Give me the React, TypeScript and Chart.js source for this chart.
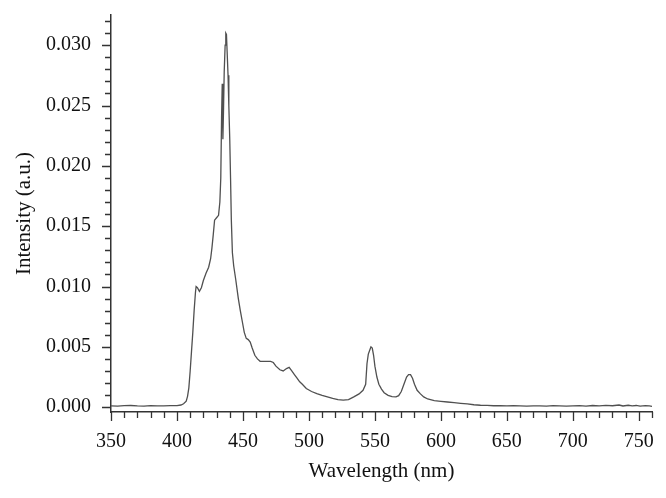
import React, { useEffect, useRef } from "react";
import { Chart, registerables } from "chart.js";

Chart.register(...registerables);

const wavelengths = [
  350, 355, 360, 365, 370, 375, 380, 385, 390, 395, 400, 403, 405, 407, 408, 409, 410, 411, 412, 413,
  414, 414.5, 415.5, 417, 418.5, 420, 422, 424, 425.5, 426.5, 427.5, 428.5, 430, 431.5, 432.5, 433.2,
  433.8, 434.3, 434.8, 435.3, 435.8, 436.5, 437, 437.5, 438, 438.7, 439.3, 440, 440.6, 441.2, 442, 443,
  444.5, 446.5, 448, 449.5, 451, 452.5, 454, 455.5, 457, 459, 461, 463, 466, 469, 471, 473, 475, 478,
  480.5, 483, 485, 487, 489, 491, 493, 495, 498, 502, 506, 510, 514, 518, 522, 526, 530, 534, 538, 541,
  543, 544, 545, 546, 547, 548, 549, 550, 551.5, 553, 555, 557, 560, 563, 566, 568, 570, 572, 574, 575.5,
  577, 578.5, 580, 582, 584.5, 587, 590, 595, 600, 605, 610, 615, 620, 625, 630, 635, 640, 645, 650, 655,
  660, 665, 670, 675, 680, 685, 690, 695, 700, 705, 710, 715, 720, 725, 730, 735, 738, 742, 745, 748,
  751, 755, 758, 760,
];

const intensities = [
  0.0001, 0.00008, 0.00012, 0.00014, 0.0001, 0.00009, 0.00012, 0.00011, 0.0001, 0.00012, 0.00013, 0.00018,
  0.00028, 0.0005, 0.0009, 0.0016, 0.003, 0.0046, 0.0062, 0.008,
  0.0095, 0.01, 0.0099, 0.0096, 0.0099, 0.0105, 0.0111, 0.0116, 0.0123, 0.0132, 0.0143, 0.0155, 0.0157,
  0.0159, 0.017, 0.019,
  0.024, 0.0268, 0.0222, 0.0248, 0.0278, 0.03, 0.031, 0.0309, 0.0295, 0.0275, 0.025, 0.0222, 0.019, 0.0155,
  0.0128, 0.0117,
  0.0106, 0.009, 0.008, 0.0071, 0.0062, 0.0057, 0.0056, 0.0054, 0.0049, 0.0043, 0.004, 0.0038, 0.0038,
  0.0038, 0.0038, 0.0037, 0.0034, 0.0031,
  0.003, 0.0032, 0.0033, 0.003, 0.0027, 0.0024, 0.0021, 0.0019, 0.00155, 0.0013, 0.00113, 0.00098, 0.00085,
  0.00072, 0.00062, 0.00058, 0.00062, 0.00085, 0.0011, 0.0014,
  0.0019, 0.0036, 0.0044, 0.0047, 0.005, 0.0049, 0.0043, 0.0034, 0.0025, 0.0019, 0.0015, 0.0012, 0.00098,
  0.00088, 0.00085, 0.00095, 0.0013, 0.0019, 0.0025, 0.0027,
  0.0027, 0.0024, 0.0019, 0.0014, 0.0011, 0.00085, 0.00068, 0.00054, 0.00048, 0.00043, 0.00038, 0.00032,
  0.00027, 0.0002, 0.00016, 0.00015, 0.00012, 0.00012, 0.0001, 0.00012,
  0.0001, 0.00009, 0.00011, 0.0001, 0.00009, 0.00012, 0.0001, 0.00009, 0.00011, 0.00013, 0.00009, 0.00014,
  0.0001, 0.00015, 0.00012, 0.00018, 0.0001, 0.00016, 0.00011, 0.00014,
  0.00008, 0.00012, 0.0001, 0.00006,
];

const xTickValues = [350, 400, 450, 500, 550, 600, 650, 700, 750];
const yTickValues = [0, 0.005, 0.01, 0.015, 0.02, 0.025, 0.03];
const xTitle = "Wavelength (nm)";
const yTitle = "Intensity (a.u.)";

const FONT = "'Liberation Serif', 'Times New Roman', serif";
const AXIS_COLOR = "#333333";

const minorTicksPlugin = {
  id: "minorTicks",
  afterDraw(chart: any) {
    const { ctx, chartArea } = chart;
    const xs = chart.scales.x;
    const ys = chart.scales.y;
    ctx.save();
    ctx.strokeStyle = AXIS_COLOR;
    ctx.lineWidth = 1.3;
    ctx.beginPath();
    for (let v = 350; v <= 760; v += 10) {
      const px = Math.round(xs.getPixelForValue(v)) + 0.5;
      const len = v % 50 === 0 ? 9 : 6;
      ctx.moveTo(px, chartArea.bottom);
      ctx.lineTo(px, chartArea.bottom + len);
    }
    for (let i = 0; i <= 32; i++) {
      const py = Math.round(ys.getPixelForValue(i / 1000)) + 0.5;
      const len = i % 5 === 0 ? 9 : 6;
      ctx.moveTo(chartArea.left - len, py);
      ctx.lineTo(chartArea.left, py);
    }
    ctx.stroke();
    ctx.restore();
  },
};

export default function App() {
  const canvasRef = useRef<HTMLCanvasElement | null>(null);

  useEffect(() => {
    const canvas = canvasRef.current;
    if (!canvas) return;
    const points = wavelengths.map((w, i) => ({ x: w, y: intensities[i] }));
    const chart = new Chart(canvas, {
      type: "line",
      data: {
        datasets: [
          {
            data: points,
            borderColor: "#505050",
            borderWidth: 1.3,
            pointRadius: 0,
            tension: 0,
            fill: false,
          },
        ],
      },
      options: {
        animation: false,
        responsive: false,
        maintainAspectRatio: false,
        layout: { padding: { top: 15, right: 14, left: 0, bottom: 0 } },
        plugins: {
          legend: { display: false },
          tooltip: { enabled: false },
        },
        scales: {
          x: {
            type: "linear",
            min: 350,
            max: 760,
            afterBuildTicks: (s: any) => {
              s.ticks = xTickValues.map((v) => ({ value: v }));
            },
            afterFit: (s: any) => {
              s.height = 86;
              s.paddingLeft = 0;
              s.paddingRight = 0;
            },
            grid: { display: false },
            border: { display: true, color: AXIS_COLOR, width: 1.5 },
            ticks: {
              autoSkip: false,
              maxRotation: 0,
              padding: 10,
              color: "#111111",
              font: { family: FONT, size: 20 },
              callback: (v: any) => String(v),
            },
            title: {
              display: true,
              text: xTitle,
              color: "#111111",
              font: { family: FONT, size: 21 },
              padding: { top: 0, bottom: 14 },
            },
          },
          y: {
            type: "linear",
            min: -0.0004,
            max: 0.0325,
            afterBuildTicks: (s: any) => {
              s.ticks = yTickValues.map((v) => ({ value: v }));
            },
            afterFit: (s: any) => {
              s.width = 111;
              s.paddingTop = 0;
              s.paddingBottom = 0;
            },
            grid: { display: false },
            border: { display: true, color: AXIS_COLOR, width: 1.5 },
            ticks: {
              autoSkip: false,
              padding: 12,
              color: "#111111",
              font: { family: FONT, size: 20 },
              callback: (v: any) => Number(v).toFixed(3),
            },
            title: {
              display: true,
              text: yTitle,
              color: "#111111",
              font: { family: FONT, size: 21 },
              padding: { top: 12, bottom: 0 },
            },
          },
        },
      },
      plugins: [minorTicksPlugin],
    });
    return () => chart.destroy();
  }, []);

  return (
    <div style={{ position: "fixed", left: 0, top: 0, width: 666, height: 498, background: "#ffffff" }}>
      <canvas ref={canvasRef} width={666} height={498} style={{ display: "block" }} />
    </div>
  );
}
